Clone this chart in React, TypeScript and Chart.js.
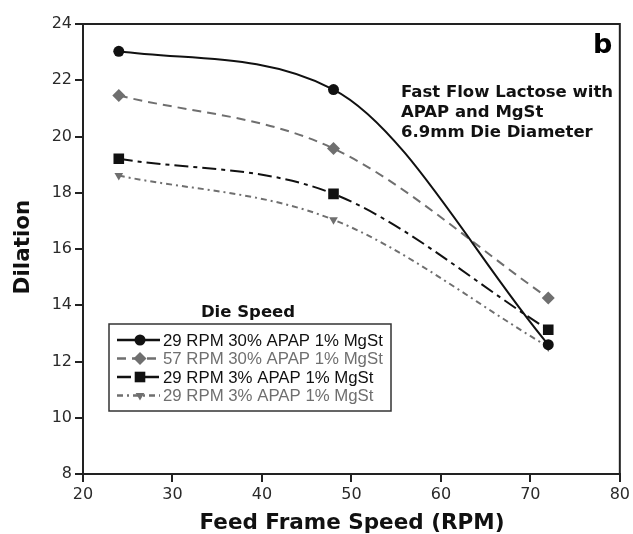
import React, { useEffect, useRef } from "react";
import { Chart, registerables } from "chart.js";

Chart.register(...registerables);

// Feed frame speed (RPM) on the x axis
const feedFrameSpeeds = [24, 48, 72];

// Dilation for each die speed / formulation
const seriesLabels = [
  "29 RPM 30% APAP 1% MgSt",
  "57 RPM 30% APAP 1% MgSt",
  "29 RPM 3% APAP 1% MgSt",
  "29 RPM 3% APAP 1% MgSt",
];
const dilation29Rpm30Apap = [23.03, 21.67, 12.6];
const dilation57Rpm30Apap = [21.46, 19.57, 14.26];
const dilation29Rpm3Apap = [19.21, 17.96, 13.13];
const dilation29Rpm3ApapAlt = [18.61, 17.04, 12.52];

const xTickValues = [20, 30, 40, 50, 60, 70, 80];
const yTickValues = [8, 10, 12, 14, 16, 18, 20, 22, 24];

const annotationLines = ["Fast Flow Lactose with", "APAP and MgSt", "6.9mm Die Diameter"];
const panelLetter = "b";
const legendTitle = "Die Speed";
const xTitle = "Feed Frame Speed (RPM)";
const yTitle = "Dilation";

const BLACK = "#111111";
const GRAY = "#6f6f6f";
const AXIS = "#222222";
const TICK_TEXT = "#2a2a2a";

type SeriesStyle = {
  color: string;
  dash: number[];
  marker: "circle" | "rectRot" | "rect" | "triangle";
  radius: number;
  rotation: number;
};

const seriesStyles: SeriesStyle[] = [
  { color: BLACK, dash: [], marker: "circle", radius: 5.5, rotation: 0 },
  { color: GRAY, dash: [9, 6], marker: "rectRot", radius: 6.5, rotation: 0 },
  { color: BLACK, dash: [14, 5, 4, 5], marker: "rect", radius: 7.5, rotation: 0 },
  { color: GRAY, dash: [6, 4, 2, 4], marker: "triangle", radius: 5, rotation: 180 },
];

const seriesValues = [dilation29Rpm30Apap, dilation57Rpm30Apap, dilation29Rpm3Apap, dilation29Rpm3ApapAlt];

function drawMarker(ctx: CanvasRenderingContext2D, s: SeriesStyle, x: number, y: number) {
  ctx.save();
  ctx.fillStyle = s.color;
  ctx.beginPath();
  if (s.marker === "circle") {
    ctx.arc(x, y, s.radius, 0, Math.PI * 2);
  } else if (s.marker === "rectRot") {
    const r = s.radius;
    ctx.moveTo(x, y - r);
    ctx.lineTo(x + r, y);
    ctx.lineTo(x, y + r);
    ctx.lineTo(x - r, y);
    ctx.closePath();
  } else if (s.marker === "rect") {
    const h = s.radius * Math.SQRT1_2;
    ctx.rect(x - h, y - h, 2 * h, 2 * h);
  } else {
    const r = s.radius;
    ctx.moveTo(x - r * 0.87, y - r * 0.5);
    ctx.lineTo(x + r * 0.87, y - r * 0.5);
    ctx.lineTo(x, y + r);
    ctx.closePath();
  }
  ctx.fill();
  ctx.restore();
}

const decorPlugin = {
  id: "decor",
  afterDraw(chart: any) {
    const ctx: CanvasRenderingContext2D = chart.ctx;
    const area = chart.chartArea;
    ctx.save();

    // closing frame on top and right
    ctx.strokeStyle = AXIS;
    ctx.lineWidth = 2;
    ctx.beginPath();
    ctx.moveTo(area.left, area.top);
    ctx.lineTo(area.right, area.top);
    ctx.lineTo(area.right, area.bottom);
    ctx.stroke();

    // panel letter
    ctx.fillStyle = "#000";
    ctx.font = "bold 27px 'DejaVu Sans'";
    ctx.textAlign = "left";
    ctx.textBaseline = "alphabetic";
    ctx.fillText(panelLetter, 593, 53);

    // annotation
    ctx.font = "bold 16.5px 'DejaVu Sans'";
    ctx.fillStyle = "#111";
    annotationLines.forEach((t, i) => ctx.fillText(t, 401, 97 + i * 19.8));

    // legend title
    ctx.textAlign = "center";
    ctx.fillText(legendTitle, 248, 317);

    // legend box
    const bx = 109, by = 324, bw = 282, bh = 87;
    ctx.strokeStyle = "#333";
    ctx.lineWidth = 1.5;
    ctx.strokeRect(bx, by, bw, bh);

    const rowY = [340, 358.5, 377, 395.5];
    seriesLabels.forEach((label, i) => {
      const s = seriesStyles[i];
      const y = rowY[i];
      ctx.save();
      ctx.strokeStyle = s.color;
      ctx.lineWidth = 2.5;
      ctx.setLineDash(s.dash);
      ctx.beginPath();
      ctx.moveTo(117, y);
      ctx.lineTo(160, y);
      ctx.stroke();
      ctx.restore();
      drawMarker(ctx, s, 140, y);
      ctx.fillStyle = s.color;
      ctx.font = "16.8px 'Liberation Sans'";
      ctx.textAlign = "left";
      ctx.textBaseline = "middle";
      ctx.fillText(label, 163, y + 1);
    });

    // axis titles
    ctx.fillStyle = "#111";
    ctx.font = "bold 21.5px 'DejaVu Sans'";
    ctx.textAlign = "center";
    ctx.textBaseline = "middle";
    ctx.fillText(xTitle, 352, 523);

    ctx.save();
    ctx.translate(23, 247);
    ctx.rotate(-Math.PI / 2);
    ctx.fillText(yTitle, 0, 0);
    ctx.restore();

    ctx.restore();
  },
};

export default function App() {
  const canvasRef = useRef<HTMLCanvasElement | null>(null);

  useEffect(() => {
    const canvas = canvasRef.current;
    if (!canvas) return;

    const datasets = seriesValues.map((vals, i) => {
      const s = seriesStyles[i];
      return {
        label: seriesLabels[i],
        data: vals.map((v, j) => ({ x: feedFrameSpeeds[j], y: v })),
        borderColor: s.color,
        backgroundColor: s.color,
        borderWidth: 2,
        borderDash: s.dash,
        pointStyle: s.marker,
        pointRadius: s.radius,
        pointRotation: s.rotation,
        pointBorderWidth: 0,
        pointBackgroundColor: s.color,
        cubicInterpolationMode: "monotone",
        fill: false,
      };
    });

    const tickFont = { family: "'DejaVu Sans'", size: 16 };

    const chart = new Chart(canvas, {
      type: "line",
      data: { datasets },
      options: {
        responsive: false,
        animation: false,
        layout: { padding: { left: 0, top: 24, right: 13, bottom: 0 } },
        plugins: { legend: { display: false }, tooltip: { enabled: false } },
        scales: {
          x: {
            type: "linear",
            min: xTickValues[0],
            max: xTickValues[xTickValues.length - 1],
            afterBuildTicks: (scale: any) => {
              scale.ticks = xTickValues.map((v) => ({ value: v }));
            },
            afterFit: (scale: any) => {
              scale.height = 60;
            },
            ticks: { font: tickFont, color: TICK_TEXT, padding: 3, maxRotation: 0 },
            grid: { drawOnChartArea: false, tickLength: 8, color: AXIS, lineWidth: 2 },
            border: { color: AXIS, width: 2 },
          },
          y: {
            type: "linear",
            min: yTickValues[0],
            max: yTickValues[yTickValues.length - 1],
            afterBuildTicks: (scale: any) => {
              scale.ticks = yTickValues.map((v) => ({ value: v }));
            },
            afterFit: (scale: any) => {
              scale.width = 83;
            },
            ticks: { font: tickFont, color: TICK_TEXT, padding: 3 },
            grid: { drawOnChartArea: false, tickLength: 8, color: AXIS, lineWidth: 2 },
            border: { color: AXIS, width: 2 },
          },
        },
      },
      plugins: [decorPlugin],
    } as any);

    return () => chart.destroy();
  }, []);

  return (
    <div style={{ position: "fixed", left: 0, top: 0, width: 633, height: 534, background: "#fff" }}>
      <canvas ref={canvasRef} width={633} height={534} style={{ display: "block" }} />
    </div>
  );
}
